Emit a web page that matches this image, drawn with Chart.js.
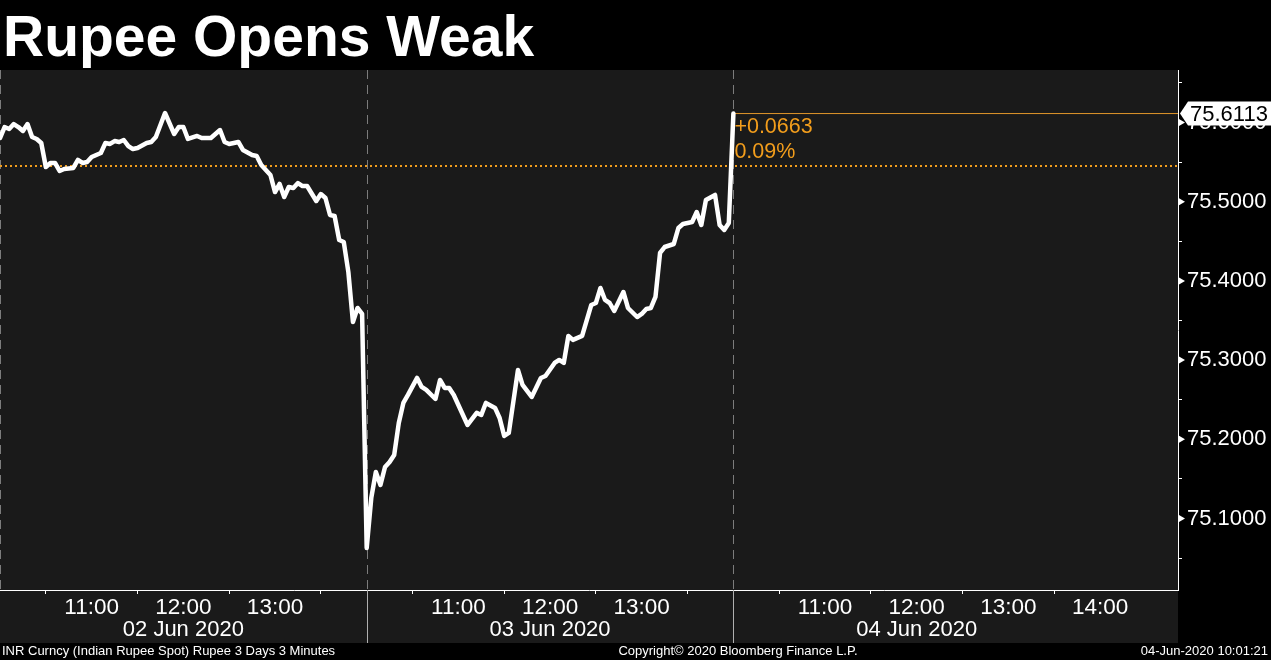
<!DOCTYPE html>
<html>
<head>
<meta charset="utf-8">
<script src="https://cdn.jsdelivr.net/npm/chart.js@4"></script>
<style>
  html, body { margin: 0; padding: 0; background: #000; }
  #chart { display: block; }
</style>
</head>
<body>
<canvas id="chart" width="1271" height="660"></canvas>
<script>
// INR spot, 3 minute bars, 3 sessions
var title = "Rupee Opens Weak";
var dayLabels = ["02 Jun 2020", "03 Jun 2020", "04 Jun 2020"];

var day1Times = ["10:00","10:03","10:06","10:09","10:12","10:15","10:18","10:21","10:24","10:27",
  "10:30","10:33","10:36","10:39","10:42","10:48","10:51","10:54","10:57","11:00",
  "11:06","11:09","11:12","11:15","11:18","11:21","11:24","11:27","11:30","11:36",
  "11:39","11:42","11:48","11:54","11:57","12:00","12:03","12:09","12:12","12:18",
  "12:24","12:27","12:30","12:36","12:39","12:45","12:48","12:51","12:57","13:00",
  "13:03","13:06","13:09","13:12","13:15","13:18","13:21","13:27","13:30","13:33",
  "13:36","13:39","13:42","13:45","13:48","13:51","13:54","13:57"];
var day1Rates = [75.5804,75.5943,75.5918,75.5981,75.5943,75.5893,75.5981,75.5817,75.5792,75.5741,
  75.5438,75.5489,75.5489,75.5388,75.5413,75.5426,75.5527,75.5489,75.5501,75.5564,
  75.5615,75.5741,75.5729,75.5766,75.5754,75.5779,75.5703,75.5665,75.5678,75.5741,
  75.5754,75.5817,75.6120,75.5855,75.5943,75.5943,75.5792,75.5830,75.5804,75.5804,
  75.5905,75.5754,75.5729,75.5754,75.5653,75.5590,75.5577,75.5463,75.5337,75.5122,
  75.5224,75.5059,75.5186,75.5173,75.5236,75.5198,75.5198,75.5009,75.5097,75.5047,
  75.4832,75.4820,75.4516,75.4491,75.4112,75.3481,75.3658,75.3583];

var day2Times = ["10:00","10:03","10:06","10:09","10:12","10:15","10:18","10:21","10:24","10:27",
  "10:33","10:36","10:39","10:45","10:48","10:51","10:54","10:57","11:06","11:12",
  "11:15","11:18","11:24","11:27","11:30","11:33","11:39","11:42","11:48","11:54",
  "11:57","12:03","12:06","12:09","12:12","12:15","12:21","12:27","12:30","12:33",
  "12:36","12:39","12:42","12:48","12:51","12:57","13:00","13:03","13:06","13:09",
  "13:12","13:15","13:21","13:24","13:27","13:33","13:36","13:39","13:42","13:48",
  "13:51","13:54","13:57"];
var day2Rates = [75.0627,75.1259,75.1587,75.1423,75.1650,75.1714,75.1802,75.2206,75.2459,75.2560,
  75.2775,75.2661,75.2623,75.2509,75.2749,75.2648,75.2648,75.2560,75.2181,75.2333,
  75.2307,75.2459,75.2396,75.2269,75.2042,75.2080,75.2875,75.2686,75.2535,75.2774,
  75.2800,75.2964,75.3002,75.2964,75.3305,75.3255,75.3305,75.3696,75.3721,75.3911,
  75.3759,75.3721,75.3620,75.3860,75.3658,75.3544,75.3583,75.3646,75.3658,75.3797,
  75.4353,75.4428,75.4466,75.4668,75.4719,75.4744,75.4870,75.4706,75.5021,75.5085,
  75.4706,75.4643,75.4731];

var day3Times = ["10:00"];
var day3Rates = [75.6113];

var prevClose = 75.545;
var lastRate = day3Rates[day3Rates.length - 1];

var footerLeft = "INR Curncy (Indian Rupee Spot) Rupee 3 Days 3 Minutes";
var footerMid = "Copyright\u00a9 2020 Bloomberg Finance L.P.";
var footerRight = "04-Jun-2020 10:01:21";

// each session is drawn as 10:00 - 14:00, days glued together
var SESSION_START = 600;
var SESSION_LEN = 240;
var X_MAX = 771;
var Y_MIN = 75.0097, Y_MAX = 75.6663;

var ORANGE = "#f29d1c";
var FONT = '"Liberation Sans", Arial, sans-serif';

function toX(day, hhmm) {
  var p = hhmm.split(":");
  return day * SESSION_LEN + (+p[0]) * 60 + (+p[1]) - SESSION_START;
}

var points = [];
[[day1Times, day1Rates], [day2Times, day2Rates], [day3Times, day3Rates]].forEach(function (d, i) {
  d[0].forEach(function (t, j) { points.push({ x: toX(i, t), y: d[1][j] }); });
});
var lastX = points[points.length - 1].x;

var xTicks = [];
for (var d = 0; d < 3; d++) {
  for (var m = 30; m < SESSION_LEN; m += 30) xTicks.push(d * SESSION_LEN + m);
}
xTicks.push(3 * SESSION_LEN);

var yTicks = [];
for (var v = 75.05; v < 75.66; v += 0.05) yTicks.push(Math.round(v * 100) / 100);

function isMajor(v) { return Math.abs(v * 10 - Math.round(v * 10)) < 1e-6; }

var bloombergPlugin = {
  id: "bloomberg",
  beforeDraw: function (chart) {
    var c = chart.ctx, a = chart.chartArea;
    c.save();
    c.fillStyle = "#000";
    c.fillRect(0, 0, chart.width, chart.height);
    c.fillStyle = "#1a1a1a";
    c.fillRect(a.left, a.top, a.right - a.left, 643 - a.top);
    c.restore();
  },
  beforeDatasetsDraw: function (chart) {
    var c = chart.ctx, a = chart.chartArea, xs = chart.scales.x;
    c.save();
    c.strokeStyle = "#7c7c7c";
    c.lineWidth = 1;
    c.setLineDash([9, 6]);
    for (var d = 0; d < 3; d++) {
      var px = Math.round(xs.getPixelForValue(d * SESSION_LEN)) + 0.5;
      c.beginPath(); c.moveTo(px, a.top); c.lineTo(px, a.bottom); c.stroke();
    }
    c.restore();
  },
  afterDraw: function (chart) {
    var c = chart.ctx, a = chart.chartArea, xs = chart.scales.x, ys = chart.scales.y;
    c.save();
    // title
    c.fillStyle = "#fff";
    c.font = "bold 57px " + FONT;
    c.textBaseline = "alphabetic";
    c.textAlign = "left";
    c.fillText(title, 3, 56);

    // day separators in the axis band
    c.strokeStyle = "#b0b0b0";
    c.lineWidth = 1;
    for (var d = 1; d < 3; d++) {
      var px = Math.round(xs.getPixelForValue(d * SESSION_LEN)) + 0.5;
      c.beginPath(); c.moveTo(px, a.bottom); c.lineTo(px, 643); c.stroke();
    }

    // date row
    c.font = "22px " + FONT;
    c.textAlign = "center";
    c.textBaseline = "middle";
    dayLabels.forEach(function (lbl, i) {
      c.fillText(lbl, xs.getPixelForValue(i * SESSION_LEN + SESSION_LEN / 2), 630);
    });

    // major tick arrows on the price axis
    c.fillStyle = "#fff";
    yTicks.forEach(function (v) {
      if (!isMajor(v)) return;
      var py = ys.getPixelForValue(v);
      c.beginPath(); c.moveTo(a.right + 1, py - 3.5); c.lineTo(a.right + 7, py); c.lineTo(a.right + 1, py + 3.5); c.closePath(); c.fill();
    });

    // change from previous close
    var chg = lastRate - prevClose;
    var pct = chg / prevClose * 100;
    var lx = xs.getPixelForValue(lastX) + 1;
    c.fillStyle = ORANGE;
    c.textAlign = "left";
    c.font = "21.5px " + FONT;
    c.fillText((chg >= 0 ? "+" : "") + chg.toFixed(4), lx, 127);
    c.fillText(pct.toFixed(2) + "%", lx, 152);

    // last price tag
    var ly = ys.getPixelForValue(lastRate);
    c.fillStyle = "#fff";
    c.beginPath();
    c.moveTo(a.right + 2, ly);
    c.lineTo(a.right + 10, ly - 12);
    c.lineTo(chart.width, ly - 12);
    c.lineTo(chart.width, ly + 12);
    c.lineTo(a.right + 10, ly + 12);
    c.closePath();
    c.fill();
    c.fillStyle = "#000";
    c.font = "22px " + FONT;
    c.fillText(lastRate.toFixed(4), a.right + 12, ly + 1);

    // footer
    c.fillStyle = "#fff";
    c.font = "13px " + FONT;
    c.textAlign = "left";
    c.fillText(footerLeft, 2, 651);
    c.textAlign = "center";
    c.fillText(footerMid, 738, 651);
    c.textAlign = "right";
    c.fillText(footerRight, 1268, 651);
    c.restore();
  }
};

var ctx = document.getElementById("chart");
var rupeeChart = new Chart(ctx, {
  type: "line",
  data: {
    datasets: [{
      label: "USDINR",
      data: points,
      borderColor: "#fff",
      borderWidth: 4.5,
      borderJoinStyle: "round",
      borderCapStyle: "round",
      pointRadius: 0,
      tension: 0,
      order: 0
    }, {
      label: "Previous close",
      data: [{ x: 0, y: prevClose }, { x: X_MAX, y: prevClose }],
      borderColor: ORANGE,
      borderWidth: 2,
      borderDash: [2, 3],
      pointRadius: 0,
      order: 2
    }, {
      label: "Last",
      data: [{ x: lastX, y: lastRate }, { x: X_MAX, y: lastRate }],
      borderColor: "#e0962a",
      borderWidth: 1,
      pointRadius: 0,
      order: 1
    }]
  },
  options: {
    responsive: false,
    devicePixelRatio: 1,
    animation: false,
    layout: { padding: { top: 70, bottom: 17, left: 0, right: 0 } },
    plugins: {
      legend: { display: false },
      tooltip: { enabled: false },
      title: { display: false }
    },
    scales: {
      x: {
        type: "linear",
        min: 0,
        max: X_MAX,
        afterBuildTicks: function (scale) {
          scale.ticks = xTicks.map(function (v) { return { value: v }; });
        },
        afterFit: function (scale) { scale.height = 53; },
        border: { display: true, color: "#fff", width: 1 },
        grid: {
          drawOnChartArea: false,
          drawTicks: true,
          tickLength: 4,
          tickColor: function (c) { return c.tick && c.tick.value % 60 === 30 ? "#fff" : "rgba(0,0,0,0)"; }
        },
        ticks: {
          autoSkip: false,
          maxRotation: 0,
          color: "#fff",
          padding: 0,
          font: { family: FONT, size: 22.5 },
          callback: function (v) {
            var day = Math.min(Math.floor(v / SESSION_LEN), 2);
            var clock = SESSION_START + v - day * SESSION_LEN;
            if (clock % 60 !== 0) return "";
            return (clock / 60) + ":00";
          }
        }
      },
      y: {
        type: "linear",
        position: "right",
        min: Y_MIN,
        max: Y_MAX,
        afterBuildTicks: function (scale) {
          scale.ticks = yTicks.map(function (v) { return { value: v }; });
        },
        afterFit: function (scale) { scale.width = 93; },
        border: { display: true, color: "#fff", width: 1 },
        grid: {
          drawOnChartArea: false,
          drawTicks: true,
          tickLength: 4,
          tickColor: function (c) { return c.tick && !isMajor(c.tick.value) ? "#fff" : "rgba(0,0,0,0)"; }
        },
        ticks: {
          color: "#fff",
          padding: 5,
          font: { family: FONT, size: 22 },
          callback: function (v) { return isMajor(v) ? v.toFixed(4) : ""; }
        }
      }
    }
  },
  plugins: [bloombergPlugin]
});
</script>
</body>
</html>
